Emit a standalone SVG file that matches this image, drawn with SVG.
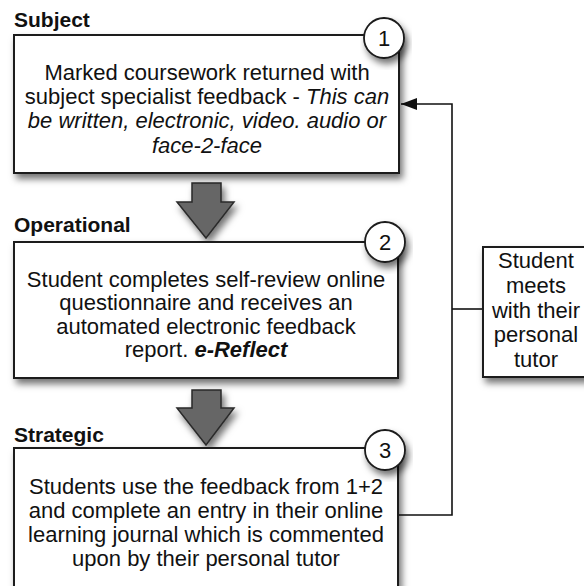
<svg xmlns="http://www.w3.org/2000/svg" width="584" height="586" viewBox="0 0 584 586">
<defs>
<filter id="sh" x="-10%" y="-10%" width="130%" height="140%">
<feDropShadow dx="3" dy="5" stdDeviation="3.5" flood-color="#000" flood-opacity="0.55"/>
</filter>
<marker id="ah" markerWidth="16" markerHeight="12" refX="16" refY="6" orient="auto" markerUnits="userSpaceOnUse">
<path d="M0,0 L16,6 L0,12 Z" fill="#111"/>
</marker>
<style>
.box{fill:#fff;stroke:#1a1a1a;stroke-width:2;filter:url(#sh)}
.num{fill:#fff;stroke:#1a1a1a;stroke-width:1.8;filter:url(#sh)}
.arr{fill:#666;stroke:#2a2a2a;stroke-width:1.5;filter:url(#sh)}
.t{font-family:"Liberation Sans",Arial,sans-serif;font-size:22px;fill:#111;text-anchor:middle}
.n{font-family:"Liberation Sans",Arial,sans-serif;font-size:22px;fill:#111;text-anchor:middle}
.lbl{font-family:"Liberation Sans",Arial,sans-serif;font-size:21px;font-weight:bold;fill:#111}
.con{fill:none;stroke:#111;stroke-width:1.6}
</style>
</defs>
<rect width="584" height="586" fill="#fff"/>

<g id="connectors">
<polyline class="con" points="398,515 452,515 452,104 401,104" marker-end="url(#ah)"/>
<line class="con" x1="452" y1="309" x2="483" y2="309"/>
</g>

<g id="arrow1">
<polygon class="arr" points="192,183 221,183 221,202 234,202 206,238 177,202 192,202"/>
</g>
<g id="arrow2">
<polygon class="arr" points="192,390 221,390 221,408 234,408 206,445 177,408 192,408"/>
</g>

<g id="subject">
<text class="lbl" x="14" y="27">Subject</text>
<rect class="box" x="14" y="35" width="385" height="138"/>
<circle class="num" cx="384" cy="38" r="20"/>
<text class="n" x="384" y="46">1</text>
<text class="t" x="207" y="80">Marked coursework returned with</text>
<text class="t" x="207" y="104">subject specialist feedback - <tspan font-style="italic">This can</tspan></text>
<text class="t" x="207" y="128" font-style="italic">be written, electronic, video. audio or</text>
<text class="t" x="207" y="153" font-style="italic">face-2-face</text>
</g>

<g id="operational">
<text class="lbl" x="14" y="232">Operational</text>
<rect class="box" x="14" y="242" width="384" height="136"/>
<circle class="num" cx="385" cy="242" r="20"/>
<text class="n" x="385" y="250">2</text>
<text class="t" x="206" y="287">Student completes self-review online</text>
<text class="t" x="206" y="310">questionnaire and receives an</text>
<text class="t" x="206" y="334">automated electronic feedback</text>
<text class="t" x="206" y="357">report. <tspan font-style="italic" font-weight="bold">e-Reflect</tspan></text>
</g>

<g id="strategic">
<text class="lbl" x="14" y="442">Strategic</text>
<rect class="box" x="14" y="448" width="384" height="160"/>
<circle class="num" cx="385" cy="450" r="20"/>
<text class="n" x="385" y="458">3</text>
<text class="t" x="206" y="494">Students use the feedback from 1+2</text>
<text class="t" x="206" y="518">and complete an entry in their online</text>
<text class="t" x="206" y="542">learning journal which is commented</text>
<text class="t" x="206" y="566">upon by their personal tutor</text>
</g>

<g id="tutor">
<rect class="box" x="483" y="247" width="108" height="130"/>
<text class="t" x="536" y="268">Student</text>
<text class="t" x="536" y="293">meets</text>
<text class="t" x="536" y="318">with their</text>
<text class="t" x="536" y="342">personal</text>
<text class="t" x="536" y="367">tutor</text>
</g>
</svg>
